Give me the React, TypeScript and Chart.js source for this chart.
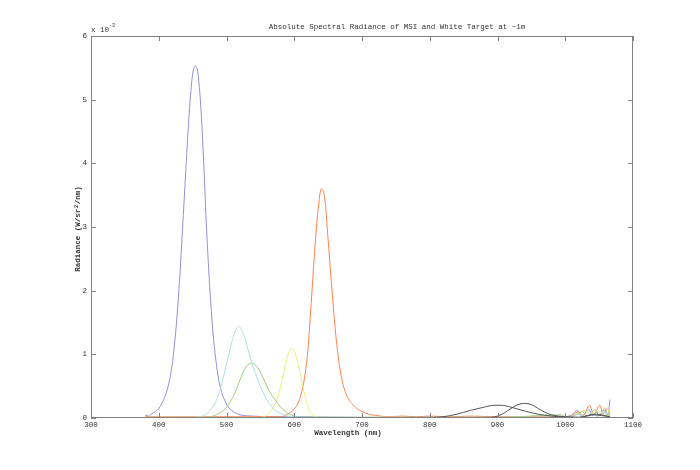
import React, { useEffect, useRef } from "react";
import { Chart, registerables } from "chart.js";

Chart.register(...registerables);

const title = "Absolute Spectral Radiance of MSI and White Target at ~1m";
const xLabel = "Wavelength (nm)";
const yLabel = "Radiance (W/sr²/nm)";
const xTicks = [300, 400, 500, 600, 700, 800, 900, 1000, 1100];
const yTicks = [0, 1, 2, 3, 4, 5, 6];

const blueWl = [380, 385, 390, 395, 400, 405, 410, 415, 420, 425, 430, 435, 440, 445, 450, 454, 458, 462, 466, 470, 475, 480, 485, 490, 500, 510, 520, 540, 560, 600, 650, 700, 800, 900, 980, 1000, 1010, 1018, 1024, 1030, 1035, 1040, 1047, 1052, 1058, 1063, 1066];
const blueVal = [0.05, 0.03, 0.07, 0.1, 0.15, 0.24, 0.36, 0.55, 0.85, 1.35, 2.05, 2.95, 3.9, 4.8, 5.4, 5.53, 5.4, 4.9, 4.1, 3.1, 2.1, 1.35, 0.85, 0.52, 0.22, 0.1, 0.05, 0.03, 0.02, 0.02, 0.015, 0.01, 0.01, 0.01, 0.01, 0.02, 0.05, 0.12, 0.03, 0.08, 0.14, 0.04, 0.1, 0.06, 0.15, 0.05, 0.29];

const cyanWl = [380, 420, 450, 460, 470, 480, 490, 500, 505, 510, 515, 518, 522, 528, 535, 540, 550, 560, 570, 580, 590, 600, 620, 700, 800, 900, 1005, 1022, 1030, 1040, 1048, 1056, 1066];
const cyanVal = [0.01, 0.01, 0.01, 0.02, 0.06, 0.18, 0.42, 0.85, 1.07, 1.28, 1.41, 1.44, 1.39, 1.22, 0.95, 0.78, 0.5, 0.28, 0.14, 0.07, 0.03, 0.015, 0.01, 0.01, 0.01, 0.01, 0.02, 0.06, 0.02, 0.08, 0.02, 0.1, 0.04];

const greenWl = [380, 440, 470, 480, 490, 500, 510, 515, 520, 525, 530, 537, 543, 550, 555, 560, 565, 570, 575, 580, 590, 600, 620, 700, 800, 900, 995, 1000, 1012, 1025, 1033, 1044, 1050, 1057, 1063, 1066];
const greenVal = [0.01, 0.01, 0.01, 0.03, 0.08, 0.17, 0.34, 0.46, 0.6, 0.73, 0.82, 0.86, 0.83, 0.72, 0.61, 0.49, 0.39, 0.31, 0.24, 0.17, 0.08, 0.03, 0.01, 0.01, 0.01, 0.01, 0.05, 0.01, 0.03, 0.1, 0.02, 0.13, 0.04, 0.12, 0.02, 0.1];

const yellowWl = [380, 500, 550, 560, 570, 575, 580, 585, 590, 595, 600, 605, 610, 615, 620, 625, 630, 640, 700, 800, 900, 1000, 1015, 1030, 1038, 1046, 1053, 1061, 1066];
const yellowVal = [0.01, 0.01, 0.01, 0.05, 0.18, 0.3, 0.5, 0.74, 0.96, 1.09, 1.05, 0.88, 0.63, 0.38, 0.18, 0.07, 0.03, 0.01, 0.01, 0.01, 0.01, 0.01, 0.05, 0.12, 0.04, 0.12, 0.05, 0.17, 0.03];

const orangeWl = [380, 420, 460, 500, 540, 580, 590, 600, 605, 610, 615, 620, 625, 630, 635, 640, 645, 650, 655, 660, 665, 670, 675, 680, 685, 690, 700, 710, 720, 740, 760, 780, 800, 830, 860, 900, 950, 1000, 1010, 1020, 1026, 1036, 1042, 1051, 1056, 1062, 1066];
const orangeVal = [0.02, 0.02, 0.02, 0.02, 0.02, 0.02, 0.06, 0.14, 0.22, 0.37, 0.62, 1.05, 1.8, 2.6, 3.25, 3.6, 3.45, 2.8, 2.1, 1.45, 0.95, 0.62, 0.42, 0.3, 0.23, 0.17, 0.1, 0.06, 0.04, 0.02, 0.03, 0.02, 0.03, 0.02, 0.03, 0.02, 0.02, 0.02, 0.04, 0.1, 0.03, 0.2, 0.05, 0.2, 0.06, 0.15, 0.05];

const black1Wl = [380, 600, 800, 820, 840, 860, 880, 895, 905, 920, 940, 960, 980, 1000, 1020, 1045, 1066];
const black1Val = [0.005, 0.005, 0.01, 0.02, 0.06, 0.12, 0.17, 0.2, 0.2, 0.17, 0.11, 0.06, 0.03, 0.015, 0.01, 0.06, 0.02];

const black2Wl = [380, 700, 890, 900, 910, 920, 930, 940, 950, 960, 970, 980, 990, 1000, 1020, 1040, 1066];
const black2Val = [0.005, 0.005, 0.01, 0.03, 0.08, 0.15, 0.21, 0.23, 0.21, 0.15, 0.09, 0.05, 0.03, 0.02, 0.01, 0.05, 0.02];

const FONT = "'Liberation Mono', 'DejaVu Sans Mono', monospace";

function pts(wl: number[], v: number[]) {
  return wl.map((x, i) => ({ x, y: v[i] }));
}

const framePlugin = {
  id: "frame",
  afterDraw(chart: any) {
    const { ctx, chartArea } = chart;
    const { left, right, top, bottom } = chartArea;
    const xs = chart.scales.x;
    const ys = chart.scales.y;
    ctx.save();
    ctx.strokeStyle = "#808080";
    ctx.lineWidth = 1;
    ctx.strokeRect(left + 0.5, top + 0.5, right - left - 1, bottom - top - 1);
    ctx.beginPath();
    const tl = 5;
    xTicks.forEach((v) => {
      const p = Math.round(xs.getPixelForValue(v)) + 0.5;
      ctx.moveTo(p, bottom);
      ctx.lineTo(p, bottom - tl);
      ctx.moveTo(p, top);
      ctx.lineTo(p, top + tl);
    });
    yTicks.forEach((v) => {
      const p = Math.round(ys.getPixelForValue(v)) + 0.5;
      ctx.moveTo(left, p);
      ctx.lineTo(left + tl, p);
      ctx.moveTo(right, p);
      ctx.lineTo(right - tl, p);
    });
    ctx.stroke();

    ctx.fillStyle = "#333";
    ctx.font = `7.5px ${FONT}`;
    ctx.textAlign = "center";
    ctx.textBaseline = "middle";
    ctx.fillText(title, 397, 27);
    ctx.font = `bold 7.5px ${FONT}`;
    ctx.fillText(xLabel, 348, 433);
    ctx.save();
    ctx.translate(78, 229);
    ctx.rotate(-Math.PI / 2);
    ctx.fillText(yLabel, 0, 0);
    ctx.restore();
    ctx.font = `7.5px ${FONT}`;
    ctx.textAlign = "left";
    ctx.fillText("x 10", 91, 30);
    ctx.font = `5px ${FONT}`;
    ctx.fillText("-3", 109, 26);
    ctx.restore();
  },
};

export default function App() {
  const ref = useRef<HTMLCanvasElement>(null);
  useEffect(() => {
    if (!ref.current) return;
    const mk = (data: any[], color: string) => ({
      data,
      borderColor: color,
      borderWidth: 1,
      pointRadius: 0,
      fill: false,
      cubicInterpolationMode: "monotone" as const,
    });
    const chart = new Chart(ref.current, {
      type: "line",
      data: {
        datasets: [
          mk(pts(black1Wl, black1Val), "#555555"),
          mk(pts(black2Wl, black2Val), "#555555"),
          mk(pts(cyanWl, cyanVal), "#a8e0e0"),
          mk(pts(greenWl, greenVal), "#9ecb7e"),
          mk(pts(yellowWl, yellowVal), "#eeee78"),
          mk(pts(orangeWl, orangeVal), "#ff8050"),
          mk(pts(blueWl, blueVal), "#9090d8"),
        ],
      },
      options: {
        animation: false,
        responsive: false,
        layout: { padding: { left: 0, top: 36, right: 67, bottom: 0 } },
        plugins: { legend: { display: false }, tooltip: { enabled: false } },
        scales: {
          x: {
            type: "linear",
            min: 300,
            max: 1100,
            afterBuildTicks: (s: any) => {
              s.ticks = xTicks.map((v) => ({ value: v }));
            },
            afterFit: (s: any) => {
              s.height = 52;
            },
            grid: { display: false, drawTicks: false },
            border: { display: false },
            ticks: {
              padding: 3,
              color: "#333",
              font: { family: FONT, size: 7.5 },
              maxRotation: 0,
              autoSkip: false,
              callback: (v: any) => String(v),
            },
          },
          y: {
            type: "linear",
            min: 0,
            max: 6,
            afterBuildTicks: (s: any) => {
              s.ticks = yTicks.map((v) => ({ value: v }));
            },
            afterFit: (s: any) => {
              s.width = 91;
            },
            grid: { display: false, drawTicks: false },
            border: { display: false },
            ticks: {
              padding: 4,
              color: "#333",
              font: { family: FONT, size: 7.5 },
              callback: (v: any) => String(v),
            },
          },
        },
      },
      plugins: [framePlugin],
    });
    return () => chart.destroy();
  }, []);
  return (
    <div style={{ position: "fixed", left: 0, top: 0, width: 700, height: 470, background: "#fff" }}>
      <canvas ref={ref} width={700} height={470} style={{ width: 700, height: 470 }} />
    </div>
  );
}
